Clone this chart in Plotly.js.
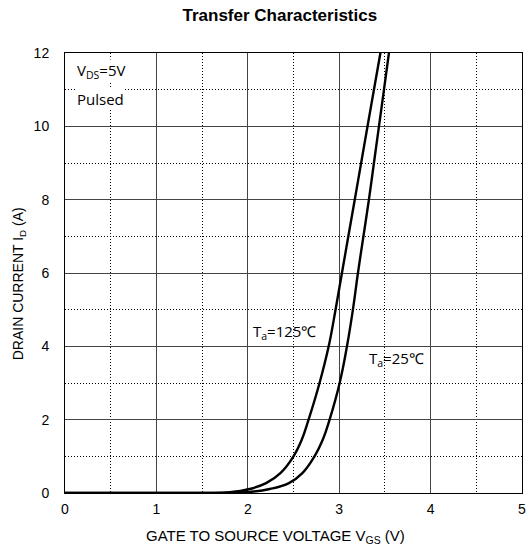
<!DOCTYPE html>
<html>
<head>
<meta charset="utf-8">
<script src="https://cdn.plot.ly/plotly-3.0.1.min.js"></script>
<style>
  html, body { margin: 0; padding: 0; background: #fff; }
  #chart { width: 531px; height: 551px; }
</style>
</head>
<body>
<div id="chart"></div>
<script>
// Drain current vs gate-source voltage, VDS = 5 V, pulsed
const vgs125 = [0, 1.0, 1.5, 1.80, 2.02, 2.20, 2.36, 2.50, 2.59, 2.665, 2.785, 2.885, 2.96, 3.03, 3.10, 3.17, 3.24, 3.31, 3.38, 3.465];
const id125  = [0, 0, 0.003, 0.02, 0.11, 0.27, 0.55, 1.0, 1.45, 2.0, 3.0, 4.0, 5.0, 6.0, 7.0, 8.0, 9.0, 10.0, 11.0, 12.2];

const vgs25 = [0, 1.0, 1.5, 1.98, 2.24, 2.45, 2.60, 2.73, 2.82, 2.895, 3.005, 3.085, 3.15, 3.205, 3.265, 3.325, 3.38, 3.435, 3.49, 3.555];
const id25  = [0, 0, 0.002, 0.02, 0.11, 0.27, 0.55, 1.0, 1.45, 2.0, 3.0, 4.0, 5.0, 6.0, 7.0, 8.0, 9.0, 10.0, 11.0, 12.2];

const xTicks = [0, 1, 2, 3, 4, 5];
const yTicks = [0, 2, 4, 6, 8, 10, 12];

const curve = { type: 'scatter', mode: 'lines', line: { color: '#000', width: 2.4, shape: 'spline', smoothing: 1.2 }, hoverinfo: 'skip' };

const traces = [
  Object.assign({}, curve, { x: vgs125, y: id125, name: 'Ta=125℃' }),
  Object.assign({}, curve, { x: vgs25, y: id25, name: 'Ta=25℃' })
];

const sans = 'Liberation Sans, Arial, sans-serif';
const label = 'Open Sans, sans-serif';

const axisBase = {
  showline: true, mirror: true, linecolor: '#000', linewidth: 1,
  showgrid: true, gridcolor: '#444', gridwidth: 1,
  zeroline: false, ticks: '',
  tickfont: { family: sans, size: 14, color: '#000' },
  fixedrange: true
};

const dotted = { showgrid: true, gridcolor: '#000', gridwidth: 1, griddash: '1px,2px' };

const layout = {
  width: 531, height: 551,
  margin: { l: 65, r: 9, t: 53, b: 58 },
  paper_bgcolor: '#fff', plot_bgcolor: '#fff',
  showlegend: false,
  title: {
    text: '<b>Transfer Characteristics</b>',
    font: { family: sans, size: 17, color: '#000' },
    x: 0.527, xanchor: 'center', y: 0.972, yanchor: 'middle'
  },
  xaxis: Object.assign({}, axisBase, {
    range: [0, 5], tickvals: xTicks, ticktext: xTicks.map(String),
    ticklabelstandoff: 3,
    minor: Object.assign({ dtick: 0.5 }, dotted)
  }),
  yaxis: Object.assign({}, axisBase, {
    range: [0, 12], tickvals: yTicks, ticktext: yTicks.map(String),
    ticklabelstandoff: 12,
    minor: Object.assign({ dtick: 1 }, dotted)
  }),
  annotations: [
    // axis titles
    { x: 0.46, y: -0.098, xref: 'paper', yref: 'paper', xanchor: 'center', yanchor: 'middle', showarrow: false,
      text: 'GATE TO SOURCE VOLTAGE V<sub>GS</sub> (V)',
      font: { family: sans, size: 15, color: '#000' } },
    { x: -0.1, y: 0.475, xref: 'paper', yref: 'paper', xanchor: 'center', yanchor: 'middle', showarrow: false,
      textangle: -90,
      text: 'DRAIN CURRENT I<sub>D</sub> (A)',
      font: { family: sans, size: 14, color: '#000' } },
    // condition labels
    { x: 0.12, y: 11.5, xref: 'x', yref: 'y', xanchor: 'left', yanchor: 'middle', showarrow: false,
      text: 'V<sub>DS</sub>=5V', bgcolor: '#fff', borderpad: 0,
      font: { family: label, size: 15, color: '#000' } },
    { x: 0.12, y: 10.75, xref: 'x', yref: 'y', xanchor: 'left', yanchor: 'middle', showarrow: false,
      text: 'Pulsed', bgcolor: '#fff', borderpad: 0,
      font: { family: label, size: 15, color: '#000' } },
    // curve labels
    { x: 2.03, y: 4.4, xref: 'x', yref: 'y', xanchor: 'left', yanchor: 'middle', showarrow: false,
      text: 'T<sub>a</sub>=125℃',
      font: { family: label, size: 15, color: '#000' } },
    { x: 3.3, y: 3.65, xref: 'x', yref: 'y', xanchor: 'left', yanchor: 'middle', showarrow: false,
      text: 'T<sub>a</sub>=25℃',
      font: { family: label, size: 15, color: '#000' } }
  ]
};

Plotly.newPlot('chart', traces, layout, { staticPlot: true, displayModeBar: false });
</script>
</body>
</html>
